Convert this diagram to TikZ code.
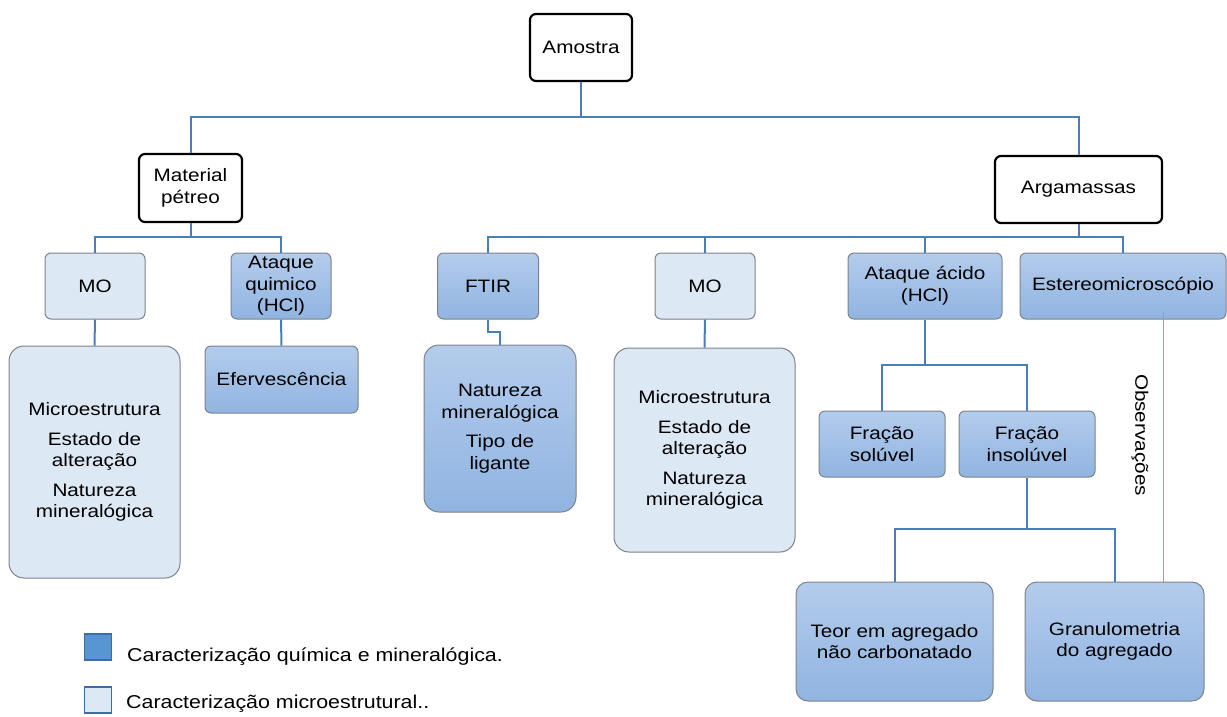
\documentclass[tikz,border=0pt]{standalone}
\usepackage{fontspec}
\setmainfont{Liberation Sans}[FakeStretch=1.15]
\usetikzlibrary{calc}
\definecolor{linec}{RGB}{74,126,187}
\definecolor{thinc}{RGB}{120,165,220}
\definecolor{bordc}{RGB}{125,130,138}
\definecolor{darktop}{RGB}{180,204,236}
\definecolor{darkbot}{RGB}{144,180,225}
\definecolor{lightf}{RGB}{221,232,245}
\definecolor{legdark}{RGB}{88,150,210}
\definecolor{legbord}{RGB}{60,110,160}
\begin{document}
\begin{tikzpicture}[x=1pt,y=-1pt,
  every node/.style={font=\fontsize{18}{21.6}\selectfont, inner sep=0pt, align=center},
  blackbox/.style={draw=black, line width=2.2pt, rounded corners=6pt, fill=white},
  darkbox/.style={draw=bordc, line width=1pt, rounded corners=#1, top color=darktop, bottom color=darkbot},
  darkbox/.default=6pt,
  lightbox/.style={draw=bordc, line width=1pt, rounded corners=#1, fill=lightf},
  lightbox/.default=6pt,
  conn/.style={draw=linec, line width=2pt},
  thinconn/.style={draw=thinc, line width=1pt},
  legtext/.style={anchor=west, font=\fontsize{18.6}{22}\selectfont}
]
\useasboundingbox (0,0) rectangle (1227,716);

% top level
\node[blackbox, minimum width=102pt, minimum height=67pt] (amostra) at (581,47.5) {Amostra};
\node[blackbox, minimum width=103pt, minimum height=68pt] (matpet) at (190.5,188) {Material\\pétreo};
\node[blackbox, minimum width=167pt, minimum height=67pt] (argam) at (1078.5,189.5) {Argamassas};

% second level
\node[lightbox, minimum width=100pt, minimum height=66pt] (mo1) at (95,286) {MO};
\node[darkbox, minimum width=100pt, minimum height=66pt] (ataq1) at (281,286) {Ataque\\quimico\\(HCl)};
\node[darkbox, minimum width=101pt, minimum height=66pt] (ftir) at (488,286) {FTIR};
\node[lightbox, minimum width=100pt, minimum height=66pt] (mo2) at (705,286) {MO};
\node[darkbox, minimum width=154pt, minimum height=66pt] (ataq2) at (925,286) {Ataque ácido\\(HCl)};
\node[darkbox, minimum width=206pt, minimum height=66pt] (estereo) at (1123,286) {Estereomicroscópio};

% third level
\node[lightbox=15pt, minimum width=171pt, minimum height=232pt] (mo1big) at (94.5,462) {Microestrutura\\[8pt]Estado de\\alteração\\[8pt]Natureza\\mineralógica};
\node[darkbox, minimum width=153pt, minimum height=67pt] (eferv) at (281.5,379.5) {Efervescência};
\node[darkbox=15pt, minimum width=152pt, minimum height=167pt] (natureza) at (500,428.5) {Natureza\\mineralógica\\[8pt]Tipo de\\ligante};
\node[lightbox=15pt, minimum width=181pt, minimum height=204pt] (mo2big) at (704.5,450) {Microestrutura\\[8pt]Estado de\\alteração\\[8pt]Natureza\\mineralógica};
\node[darkbox, minimum width=126pt, minimum height=66pt] (frsol) at (882,444) {Fração\\solúvel};
\node[darkbox, minimum width=136pt, minimum height=66pt] (frins) at (1027,444) {Fração\\insolúvel};
\node[darkbox=12pt, minimum width=197pt, minimum height=119pt] (teor) at (894.5,641.5) {Teor em agregado\\não carbonatado};
\node[darkbox=12pt, minimum width=179pt, minimum height=119pt] (granulo) at (1114.5,641.5) {Granulometria\\do agregado};

\node[rotate=-90] (obs) at (1140,435) {Observações};

% junctions
\coordinate (j1) at (581,117);
\coordinate (j2) at (190.5,237);
\coordinate (j3) at (1078.5,237);
\coordinate (j4) at (925,365);
\coordinate (j5) at (1027,529);
\coordinate (jf) at (488,332);
\coordinate (obs0) at (1163,312);

% connectors
\draw[conn] (amostra.south) -- (j1) -| (matpet.north);
\draw[conn] (j1) -| (argam.north);
\draw[conn] (matpet.south) -- (j2) -| (mo1.north);
\draw[conn] (j2) -| (ataq1.north);
\draw[conn] (argam.south) -- (j3) -| (ftir.north);
\draw[conn] (j3) -| (mo2.north);
\draw[conn] (j3) -| (ataq2.north);
\draw[conn] (j3) -| (estereo.north);
\draw[conn] (mo1.south) -- (mo1big.north);
\draw[conn] (ataq1.south) -- (eferv.north);
\draw[conn] (mo2.south) -- (mo2big.north);
\draw[conn] (ftir.south) -- (jf) -| (natureza.north);
\draw[conn] (ataq2.south) -- (j4) -| (frsol.north);
\draw[conn] (j4) -| (frins.north);
\draw[conn] (frins.south) -- (j5) -| (teor.north);
\draw[conn] (j5) -| (granulo.north);
\draw[thinconn] (obs0) -- (obs0 |- granulo.north);

% legend
\node[draw=legbord, line width=1.2pt, fill=legdark, minimum width=27pt, minimum height=26pt] (leg1) at (98,647) {};
\node[legtext] (leg1t) at (127,657) {Caracterização química e mineralógica.};
\node[draw=legbord, line width=1.2pt, fill=lightf, minimum width=27pt, minimum height=26pt] (leg2) at (98,700) {};
\node[legtext] (leg2t) at (126,704) {Caracterização microestrutural..};
\end{tikzpicture}
\end{document}
